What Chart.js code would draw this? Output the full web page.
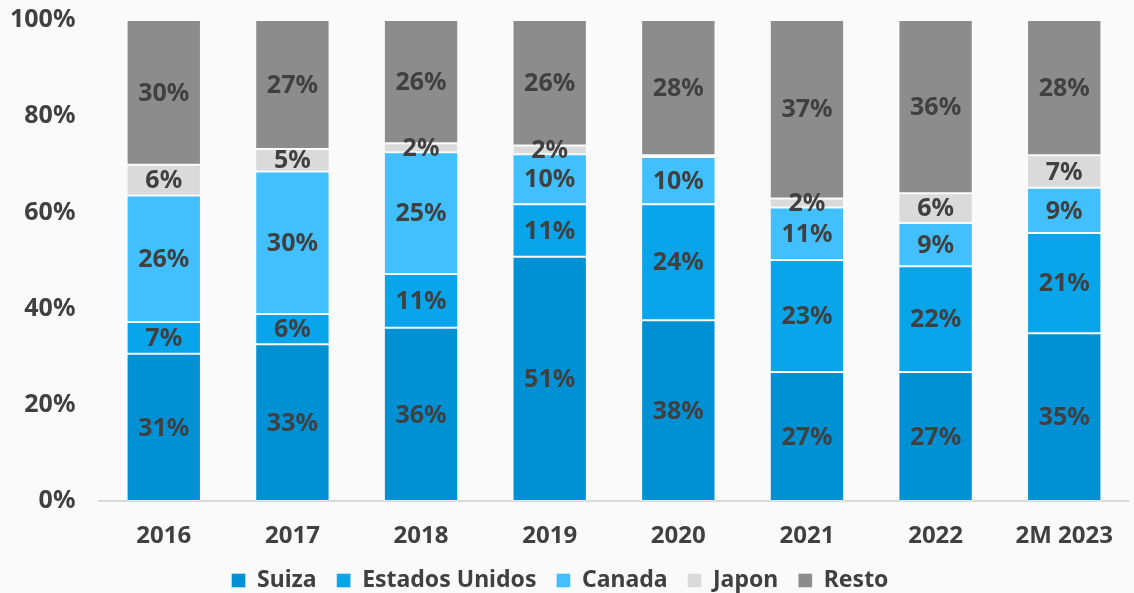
<!DOCTYPE html>
<html><head><meta charset="utf-8">
<script src="https://cdn.jsdelivr.net/npm/chart.js@4"></script>
<style>html,body{margin:0;padding:0;background:#fafafa;}#wrap{width:1134px;height:593px;position:relative;}</style>
</head><body><div id="wrap"><canvas id="c"></canvas></div>
<script>
const categories = ['2016','2017','2018','2019','2020','2021','2022','2M 2023'];
const suiza   = [30.6, 32.6, 36.0, 50.8, 37.6, 26.8, 26.8, 34.9];
const eeuu    = [6.6, 6.3, 11.2, 10.9, 24.1, 23.3, 22.0, 20.8];
const canada  = [26.3, 29.6, 25.3, 10.4, 9.8, 10.9, 9.0, 9.4];
const japon   = [6.4, 4.7, 1.9, 1.8, 0.4, 1.9, 6.2, 6.8];
const resto   = [30.1, 26.8, 25.6, 26.1, 28.1, 37.1, 36.0, 28.1];
const yTicks  = ['0%','20%','40%','60%','80%','100%'];
const seriesNames = ['Suiza','Estados Unidos','Canada','Japon','Resto'];
const seriesColors = ['#0091d5','#08a5ea','#41c0fd','#dadada','#8c8c8c'];

const FONT = '"Noto Sans", sans-serif';
const TXT = '#404040';

const labelPlugin = {
  id: 'segLabels',
  beforeLayout(chart) {
    const lg = chart.legend;
    if (lg && !lg._patched) {
      const orig = lg.fit.bind(lg);
      lg.fit = function () { orig(); this.height = 44; if (this.minSize) this.minSize.height = 44; };
      lg._patched = true;
    }
  },
  afterDatasetsDraw(chart) {
    const ctx = chart.ctx;
    ctx.save();
    ctx.font = 'bold 25px ' + FONT;
    ctx.fillStyle = TXT;
    ctx.textAlign = 'center';
    ctx.textBaseline = 'middle';
    chart.data.datasets.forEach((ds, i) => {
      const meta = chart.getDatasetMeta(i);
      meta.data.forEach((bar, j) => {
        const v = ds.data[j];
        if (v < 1) return;
        const p = bar.getProps(['x','y','base'], true);
        ctx.fillText(Math.round(v) + '%', p.x, (p.y + p.base) / 2 + 1);
      });
    });
    ctx.restore();
  }
};

const arrs = [suiza, eeuu, canada, japon, resto];
new Chart(document.getElementById('c'), {
  type: 'bar',
  data: {
    labels: categories,
    datasets: arrs.map((a, i) => ({
      label: seriesNames[i],
      data: a,
      backgroundColor: seriesColors[i],
      borderColor: 'rgba(255,255,255,0.35)',
      borderWidth: 1,
      borderSkipped: false,
      categoryPercentage: 1,
      barPercentage: 0.578
    }))
  },
  options: {
    responsive: true,
    maintainAspectRatio: false,
    animation: false,
    layout: { padding: { top: 0, right: 0, left: -14, bottom: 0 } },
    plugins: {
      legend: {
        position: 'bottom',
        labels: {
          color: TXT,
          font: { family: FONT, size: 23, weight: 'bold', lineHeight: 1 },
          boxWidth: 14, boxHeight: 14, padding: 20
        }
      },
      tooltip: { enabled: false }
    },
    scales: {
      x: {
        stacked: true,
        grid: { display: false, drawTicks: false },
        border: { display: true, color: '#d9d9d9', width: 2 },
        ticks: { color: TXT, font: { family: FONT, size: 24, weight: 'bold' }, padding: 21 },
        afterFit: (s) => { s.height = 48; }
      },
      y: {
        stacked: true,
        min: 0, max: 100,
        grid: { display: false, drawTicks: false },
        border: { display: false },
        ticks: {
          stepSize: 20,
          color: TXT,
          padding: 24,
          font: { family: FONT, size: 25, weight: 'bold' },
          callback: (v, idx) => yTicks[idx]
        },
        afterFit: (s) => { s.paddingTop = 20; s.paddingBottom = 0; }
      }
    }
  },
  plugins: [labelPlugin]
});
</script></body></html>
